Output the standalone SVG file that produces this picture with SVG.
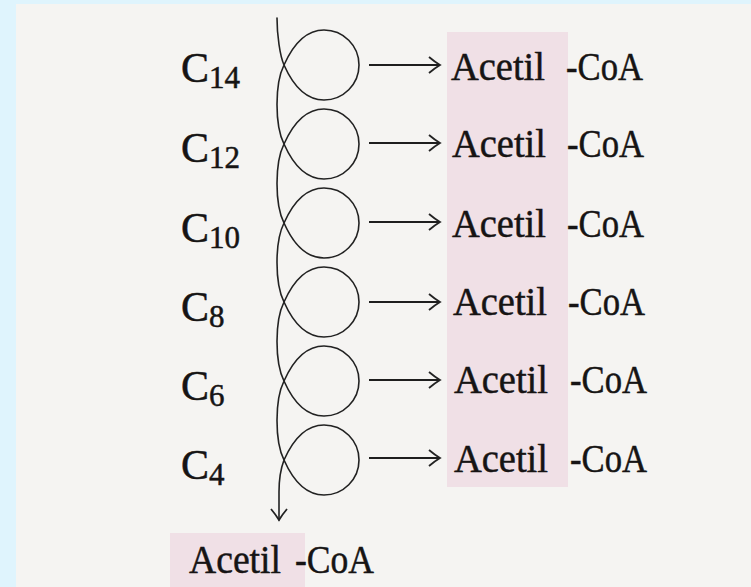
<svg xmlns="http://www.w3.org/2000/svg" width="751" height="587" viewBox="0 0 751 587">
<defs>
<style>
.t{font-family:"Liberation Serif","DejaVu Serif",serif;fill:#161414;stroke:#161414;stroke-width:0.5}
.big{font-size:42px}
.sub{font-size:31px}
.ac{font-size:41px}
.ln{fill:none;stroke:#222;stroke-width:1.6;stroke-linecap:round}
.ar{fill:none;stroke:#1e1e1e;stroke-width:2.2}
</style>
<marker id="head" markerUnits="userSpaceOnUse" markerWidth="14" markerHeight="18" refX="11" refY="8" orient="auto" viewBox="-1 -1 14 18">
<path d="M0,0 Q6,5 11,8 Q6,11 0,16" fill="none" stroke="#222" stroke-width="1.8"/>
</marker>
</defs>
<rect width="751" height="587" fill="#dff4fd"/>
<rect x="16" y="4" width="735" height="583" fill="#f5f4f2"/>
<rect x="447" y="32" width="121" height="455" fill="#f0e0e6"/>
<rect x="170" y="533" width="135" height="54" fill="#f0e0e6"/>

<g id="connectors">
<path class="ln" marker-end="url(#head)" d="M277 18 C277 35 280 56 284 65
C292 83 305 100 324 100 A35 35 0 0 0 359 65 A35 35 0 0 0 324 30 C305 30 292 47 284 65
C279 75 277 90 277 104.5 S279 134 284 144
C292 162 305 179 324 179 A35 35 0 0 0 359 144 A35 35 0 0 0 324 109 C305 109 292 126 284 144
C279 154 277 169 277 183.5 S279 213 284 223
C292 241 305 258 324 258 A35 35 0 0 0 359 223 A35 35 0 0 0 324 188 C305 188 292 205 284 223
C279 233 277 248 277 262.5 S279 292 284 302
C292 320 305 337 324 337 A35 35 0 0 0 359 302 A35 35 0 0 0 324 267 C305 267 292 284 284 302
C279 312 277 327 277 341.5 S279 371 284 381
C292 399 305 416 324 416 A35 35 0 0 0 359 381 A35 35 0 0 0 324 346 C305 346 292 363 284 381
C279 391 277 406 277 420.5 S279 450 284 460
C292 478 305 495 324 495 A35 35 0 0 0 359 460 A35 35 0 0 0 324 425 C305 425 292 442 284 460
C281 468 279 480 279 492 L279 520"/>
<line class="ar" x1="369" y1="65" x2="440" y2="65" marker-end="url(#head)"/>
<line class="ar" x1="369" y1="143" x2="440" y2="143" marker-end="url(#head)"/>
<line class="ar" x1="369" y1="222" x2="440" y2="222" marker-end="url(#head)"/>
<line class="ar" x1="369" y1="302" x2="440" y2="302" marker-end="url(#head)"/>
<line class="ar" x1="369" y1="380" x2="440" y2="380" marker-end="url(#head)"/>
<line class="ar" x1="369" y1="458" x2="440" y2="458" marker-end="url(#head)"/>
</g>

<g id="c14"><text class="t big" x="181" y="82">C<tspan class="sub" dy="6">14</tspan></text></g>
<g id="c12"><text class="t big" x="181" y="162">C<tspan class="sub" dy="6">12</tspan></text></g>
<g id="c10"><text class="t big" x="181" y="242">C<tspan class="sub" dy="6">10</tspan></text></g>
<g id="c8"><text class="t big" x="181" y="321">C<tspan class="sub" dy="6">8</tspan></text></g>
<g id="c6"><text class="t big" x="181" y="400">C<tspan class="sub" dy="6">6</tspan></text></g>
<g id="c4"><text class="t big" x="181" y="479">C<tspan class="sub" dy="6">4</tspan></text></g>

<g id="acetil1"><text class="t ac" y="80"><tspan x="451" textLength="94" lengthAdjust="spacingAndGlyphs">Acetil</tspan> <tspan x="566" textLength="77" lengthAdjust="spacingAndGlyphs">-CoA</tspan></text></g>
<g id="acetil2"><text class="t ac" y="157"><tspan x="452" textLength="94" lengthAdjust="spacingAndGlyphs">Acetil</tspan> <tspan x="567" textLength="77" lengthAdjust="spacingAndGlyphs">-CoA</tspan></text></g>
<g id="acetil3"><text class="t ac" y="237"><tspan x="452" textLength="94" lengthAdjust="spacingAndGlyphs">Acetil</tspan> <tspan x="567" textLength="77" lengthAdjust="spacingAndGlyphs">-CoA</tspan></text></g>
<g id="acetil4"><text class="t ac" y="315"><tspan x="453" textLength="94" lengthAdjust="spacingAndGlyphs">Acetil</tspan> <tspan x="568" textLength="77" lengthAdjust="spacingAndGlyphs">-CoA</tspan></text></g>
<g id="acetil5"><text class="t ac" y="393"><tspan x="454" textLength="94" lengthAdjust="spacingAndGlyphs">Acetil</tspan> <tspan x="570" textLength="77" lengthAdjust="spacingAndGlyphs">-CoA</tspan></text></g>
<g id="acetil6"><text class="t ac" y="472"><tspan x="454" textLength="94" lengthAdjust="spacingAndGlyphs">Acetil</tspan> <tspan x="570" textLength="77" lengthAdjust="spacingAndGlyphs">-CoA</tspan></text></g>
<g id="acetil7"><text class="t ac" y="573"><tspan x="189" textLength="92" lengthAdjust="spacingAndGlyphs">Acetil</tspan> <tspan x="295" textLength="79" lengthAdjust="spacingAndGlyphs">-CoA</tspan></text></g>
</svg>
